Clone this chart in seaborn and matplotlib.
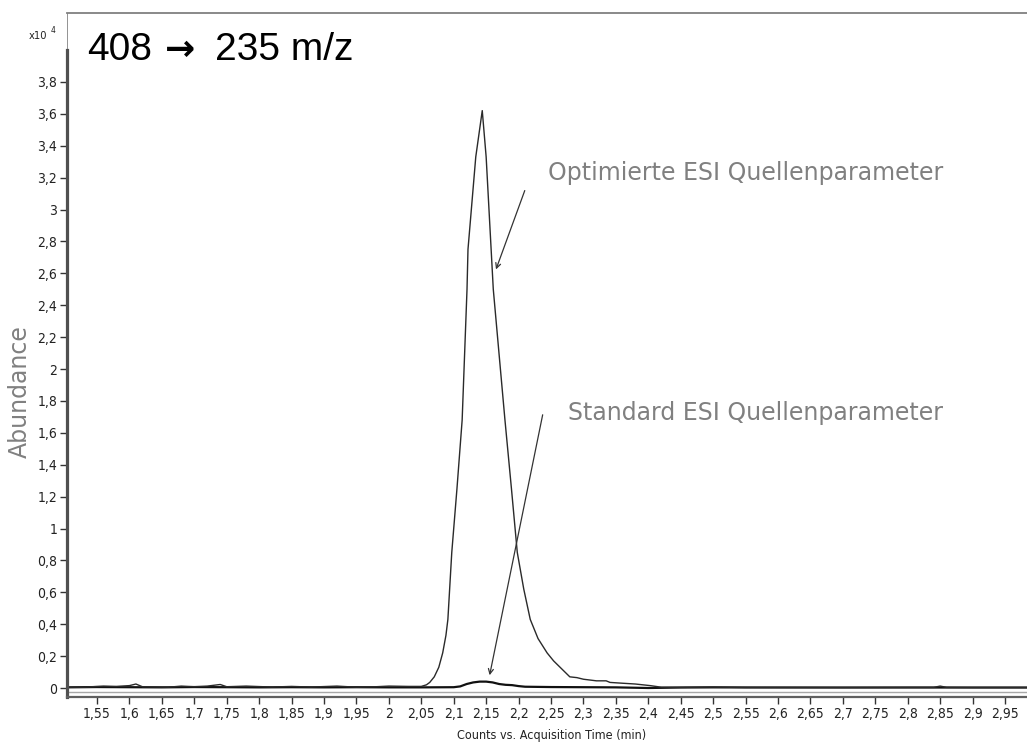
import matplotlib
matplotlib.use("Agg")
import matplotlib.pyplot as plt
import seaborn as sns
import pandas as pd

# ---------------- data ----------------
opt_time = [1.50, 1.53, 1.56, 1.58, 1.60, 1.61, 1.62, 1.66, 1.68, 1.70, 1.72, 1.74, 1.75,
            1.78, 1.82, 1.85, 1.88, 1.92, 1.95, 1.98, 2.00, 2.03, 2.05, 2.058, 2.063,
            2.070, 2.077, 2.083, 2.088, 2.091, 2.097, 2.105, 2.113, 2.1205, 2.122, 2.134,
            2.144, 2.150, 2.161, 2.170, 2.179, 2.189, 2.198, 2.208, 2.218, 2.230, 2.244,
            2.254, 2.264, 2.279, 2.29, 2.30, 2.31, 2.32, 2.335, 2.341, 2.36, 2.38, 2.403,
            2.42, 2.45, 2.50, 2.55, 2.60, 2.70, 2.80, 2.84, 2.85, 2.86, 2.90, 2.99]
opt_abund = [0.005, 0.005, 0.012, 0.010, 0.015, 0.025, 0.008, 0.005, 0.012, 0.008, 0.012,
             0.022, 0.008, 0.012, 0.006, 0.010, 0.006, 0.012, 0.005, 0.008, 0.012, 0.010,
             0.010, 0.020, 0.035, 0.07, 0.13, 0.22, 0.33, 0.43, 0.85, 1.25, 1.68, 2.50,
             2.75, 3.33, 3.62, 3.33, 2.50, 2.09, 1.68, 1.25, 0.85, 0.62, 0.43, 0.31, 0.22,
             0.17, 0.13, 0.07, 0.065, 0.055, 0.05, 0.045, 0.045, 0.035, 0.03, 0.025, 0.015,
             0.005, 0.004, 0.006, 0.003, 0.004, 0.003, 0.004, 0.004, 0.012, 0.004, 0.003,
             0.003]

std_time = [1.50, 1.55, 1.60, 1.65, 1.70, 1.75, 1.80, 1.85, 1.90, 1.95, 2.00, 2.05, 2.10,
            2.11, 2.12, 2.13, 2.14, 2.15, 2.16, 2.17, 2.18, 2.19, 2.20, 2.21, 2.25, 2.30,
            2.35, 2.40, 2.45, 2.50, 2.60, 2.70, 2.80, 2.90, 2.99]
std_abund = [0.004, 0.006, 0.005, 0.004, 0.006, 0.005, 0.004, 0.005, 0.004, 0.005, 0.004,
             0.004, 0.005, 0.010, 0.025, 0.035, 0.040, 0.040, 0.035, 0.025, 0.020, 0.018,
             0.012, 0.008, 0.006, 0.005, 0.004, 0.000, 0.003, 0.004, 0.003, 0.003, 0.003,
             0.003, 0.003]

x_ticks = [1.55, 1.60, 1.65, 1.70, 1.75, 1.80, 1.85, 1.90, 1.95, 2.00, 2.05, 2.10, 2.15,
           2.20, 2.25, 2.30, 2.35, 2.40, 2.45, 2.50, 2.55, 2.60, 2.65, 2.70, 2.75, 2.80,
           2.85, 2.90, 2.95]
x_labels = ["1,55", "1,6", "1,65", "1,7", "1,75", "1,8", "1,85", "1,9", "1,95", "2", "2,05",
            "2,1", "2,15", "2,2", "2,25", "2,3", "2,35", "2,4", "2,45", "2,5", "2,55", "2,6",
            "2,65", "2,7", "2,75", "2,8", "2,85", "2,9", "2,95"]
y_ticks = [0, 0.2, 0.4, 0.6, 0.8, 1.0, 1.2, 1.4, 1.6, 1.8, 2.0, 2.2, 2.4, 2.6, 2.8, 3.0,
           3.2, 3.4, 3.6, 3.8]
y_labels = ["0", "0,2", "0,4", "0,6", "0,8", "1", "1,2", "1,4", "1,6", "1,8", "2", "2,2",
            "2,4", "2,6", "2,8", "3", "3,2", "3,4", "3,6", "3,8"]

title_parts = ["408", "\u2192", "235 m/z"]
label_opt = "Optimierte ESI Quellenparameter"
label_std = "Standard ESI Quellenparameter"
opt_arrow_tip = (2.1637, 2.608)
opt_arrow_tail = (2.211, 3.135)
std_arrow_tip = (2.1545, 0.063)
std_arrow_tail = (2.238, 1.73)

# ---------------- style ----------------
sns.set_style("white")
plt.rcParams['font.family'] = ['Liberation Sans', 'DejaVu Sans']
cond = dict(family=['DejaVu Sans'], fontstretch='condensed')

W, H = 1027, 742
fig = plt.figure(figsize=(W / 100, H / 100), dpi=100)
left_px, right_px, top_px, bot_px = 67, 1027, 13, 697
ax = fig.add_axes([left_px / W, 1 - bot_px / H, (right_px - left_px) / W, (bot_px - top_px) / H])

df_opt = pd.DataFrame({"t": opt_time, "a": opt_abund})
df_std = pd.DataFrame({"t": std_time, "a": std_abund})
sns.lineplot(data=df_std, x="t", y="a", ax=ax, color="#111111", lw=1.6, sort=False)
sns.lineplot(data=df_opt, x="t", y="a", ax=ax, color="#2a2a2a", lw=1.0, sort=False)

xlim = (1.50375, 2.9839)
ylim = (-0.0564, 4.232)
ax.set_xlim(*xlim)
ax.set_ylim(*ylim)

ax.set_xticks(x_ticks)
ax.set_xticklabels(x_labels, fontsize=10, color="#222222", **cond)
ax.set_yticks(y_ticks)
ax.set_yticklabels(y_labels, fontsize=10, color="#222222", **cond)
ax.tick_params(axis="both", direction="out", length=5, width=1, color="#333333", pad=2)
ax.tick_params(axis="x", bottom=True)
ax.tick_params(axis="y", left=True)

ax.set_xlabel("Counts vs. Acquisition Time (min)", fontsize=9, color="#222222",
              labelpad=3, **cond)
ax.xaxis.set_label_coords((552 - left_px) / (right_px - left_px), -0.047)
ax.set_ylabel("")

ax.spines["right"].set_visible(False)
ax.spines["top"].set_color("#808080")
ax.spines["top"].set_linewidth(1.3)
ax.spines["left"].set_color("#505050")
ax.spines["left"].set_linewidth(2.3)
ax.spines["left"].set_bounds(ylim[0], 4.0)
ax.axvline(xlim[0], ymin=(4.0 - ylim[0]) / (ylim[1] - ylim[0]), ymax=1, color="#808080", lw=1.2)
ax.spines["bottom"].set_color("#606060")
ax.spines["bottom"].set_linewidth(1.6)
ax.axhline(-0.026, color="#a8a8a8", lw=1.0)

# annotations
ax.annotate("", xy=opt_arrow_tip, xytext=opt_arrow_tail,
            arrowprops=dict(arrowstyle="->", color="#333333", lw=0.9, mutation_scale=9))
ax.annotate("", xy=std_arrow_tip, xytext=std_arrow_tail,
            arrowprops=dict(arrowstyle="->", color="#333333", lw=0.9, mutation_scale=9))
ax.text(2.2455, 3.185, label_opt, fontsize=17, color="#808080", va="baseline", ha="left",
        family=['DejaVu Sans'])
ax.text(2.2763, 1.680, label_std, fontsize=17, color="#808080", va="baseline", ha="left",
        family=['DejaVu Sans'])

fig.text(87 / W, 1 - 60 / H, title_parts[0], fontsize=28, color="black", va="baseline", ha="left")
fig.text(165 / W, 1 - 60 / H, title_parts[1], fontsize=26, color="black", va="baseline",
         ha="left", family=['DejaVu Sans'], fontweight="bold")
fig.text(215 / W, 1 - 60 / H, title_parts[2], fontsize=28, color="black", va="baseline", ha="left")
fig.text(20 / W, 1 - 392 / H, "Abundance", fontsize=17, color="#808080", rotation=90,
         va="center", ha="center", family=['DejaVu Sans'])
fig.text(29 / W, 1 - 39 / H, "x10", fontsize=8, color="#222222",
         va="baseline", ha="left", **cond)
fig.text(51 / W, 1 - 33 / H, "4", fontsize=6, color="#222222",
         va="baseline", ha="left", **cond)

fig.savefig("out.png", dpi=100)
